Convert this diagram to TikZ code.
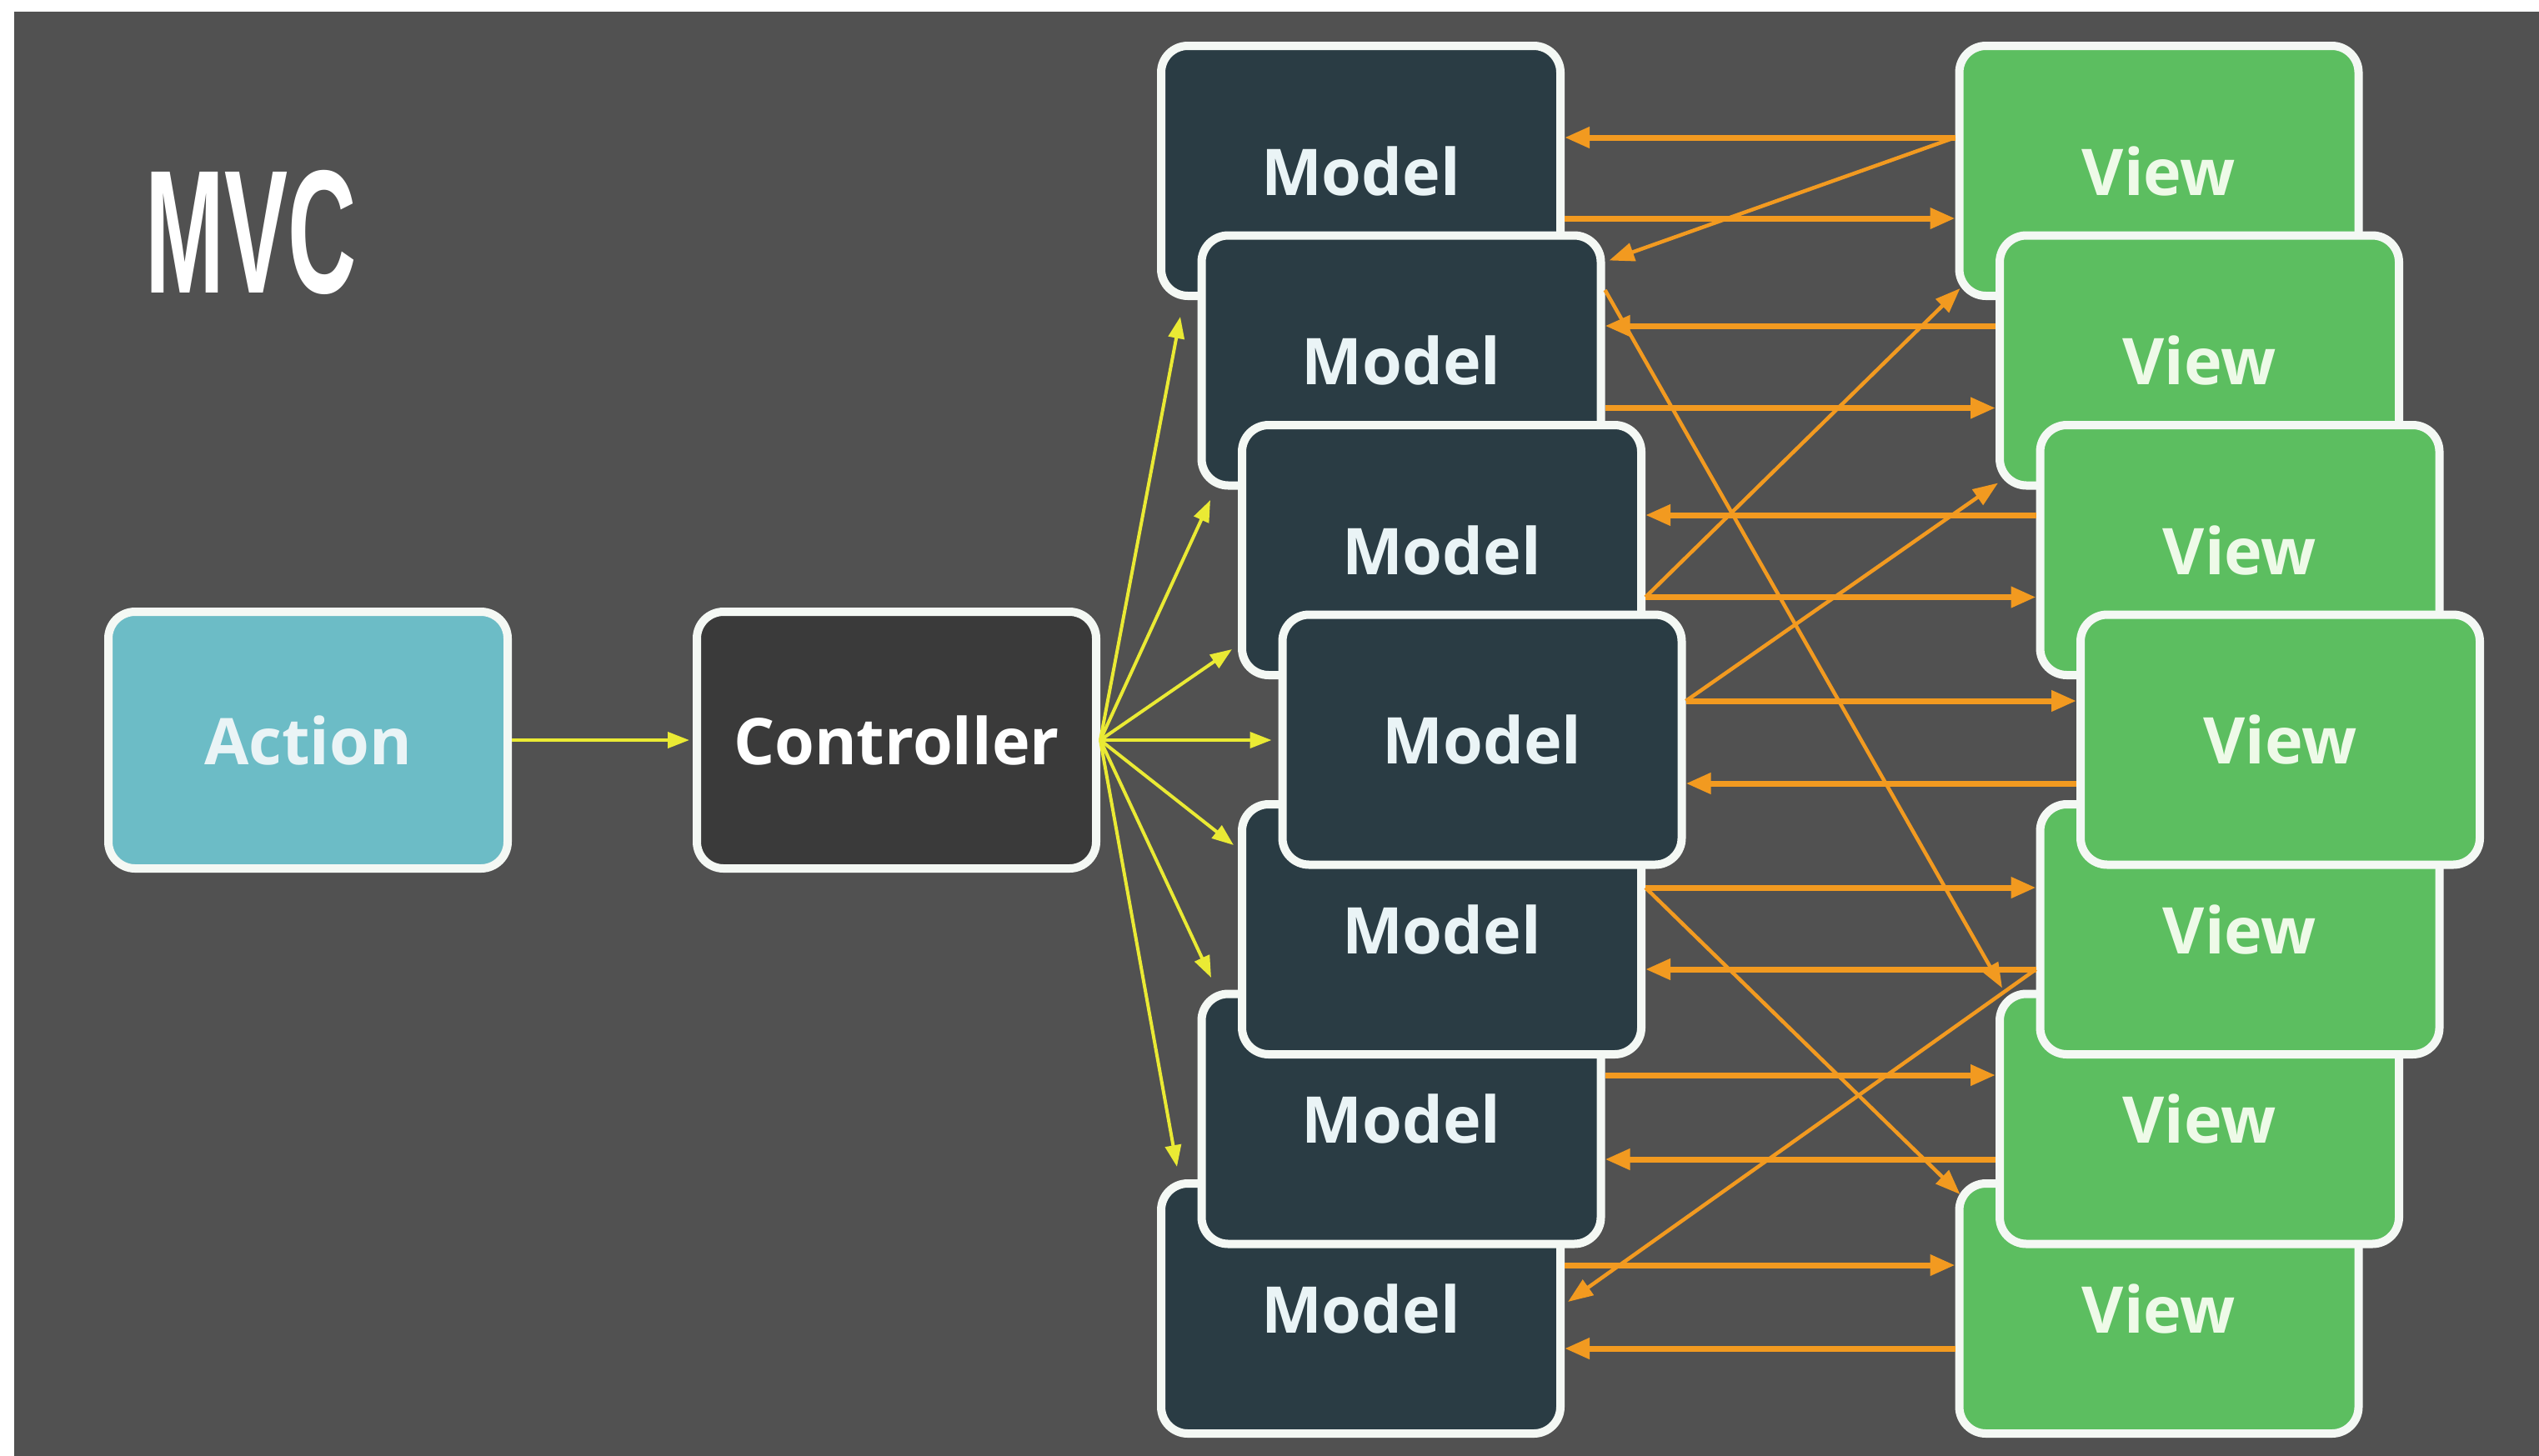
\documentclass[tikz,border=0pt]{standalone}
\usepackage{fontspec}
\usetikzlibrary{arrows.meta}
\newfontfamily\labfont{Open Sans}
\newfontfamily\titlefont{Liberation Sans}
\definecolor{bgc}{HTML}{515151}
\definecolor{modelfill}{HTML}{2A3C44}
\definecolor{viewfill}{HTML}{5CBE60}
\definecolor{actfill}{HTML}{6CBCC6}
\definecolor{ctrlfill}{HTML}{3A3A3A}
\definecolor{edgec}{HTML}{F4F8F4}
\definecolor{yel}{HTML}{EAEA34}
\definecolor{ora}{HTML}{F29A20}
\definecolor{modeltext}{HTML}{EAF4F6}
\definecolor{viewtext}{HTML}{EEFAE8}
\begin{document}
\begin{tikzpicture}[
  box/.style={draw=edgec, line width=0.10cm, rounded corners=0.32cm,
    minimum width=4.79cm, minimum height=3.00cm, inner sep=0pt,
    font=\labfont\bfseries\fontsize{22}{26}\selectfont},
  model/.style={box, fill=modelfill, text=modeltext},
  viewbox/.style={box, fill=viewfill, text=viewtext},
  yline/.style={draw=yel, line width=0.04cm, -{Triangle[length=0.26cm,width=0.19cm]}},
  hline/.style={draw=ora, line width=0.07cm, -{Triangle[length=0.30cm,width=0.24cm]}},
  dline/.style={draw=ora, line width=0.045cm, -{Triangle[length=0.30cm,width=0.22cm]}}
]
\useasboundingbox (0,0) rectangle (30.46,-17.46);
\fill[white] (-0.2,0.2) rectangle (30.7,-17.7);
\fill[bgc] (0.17,-0.14) rectangle (30.7,-17.7);

% title
\node[anchor=base west, inner sep=0pt, text=white] (title) at (1.74,-3.51)
  {\scalebox{0.54}[1]{\titlefont\bfseries\fontsize{60}{60}\selectfont MVC}};

% action and controller
\node[box, minimum height=3.08cm, fill=actfill, text=modeltext] (A) at (3.695,-8.88) {Action};
\node[box, minimum height=3.08cm, fill=ctrlfill, text=white] (C) at (10.755,-8.88) {Controller};

% models (drawing order: back to front)
\node[model] (M1) at (16.325,-2.05) {Model};
\node[model] (M2) at (16.81,-4.325) {Model};
\node[model] (M3) at (17.295,-6.60) {Model};
\node[model] (M7) at (16.325,-15.70) {Model};
\node[model] (M6) at (16.81,-13.425) {Model};
\node[model] (M5) at (17.295,-11.15) {Model};
\node[model] (M4) at (17.78,-8.875) {Model};

% views
\node[viewbox] (V1) at (25.90,-2.05) {View};
\node[viewbox] (V2) at (26.385,-4.325) {View};
\node[viewbox] (V3) at (26.87,-6.60) {View};
\node[viewbox] (V7) at (25.90,-15.70) {View};
\node[viewbox] (V6) at (26.385,-13.425) {View};
\node[viewbox] (V5) at (26.87,-11.15) {View};
\node[viewbox] (V4) at (27.355,-8.875) {View};

% yellow targets
\coordinate (y1) at (14.16,-3.80);
\coordinate (y2) at (14.52,-6.00);
\coordinate (y3) at (14.78,-7.79);
\coordinate (y5) at (14.80,-10.14);
\coordinate (y6) at (14.53,-11.73);
\coordinate (y7) at (14.12,-14.00);

\draw[yline, shorten >=0.04cm] (A.east) -- (C.west);
\draw[yline] (C.east) -- (y1);
\draw[yline] (C.east) -- (y2);
\draw[yline] (C.east) -- (y3);
\draw[yline, shorten >=0.08cm] (C.east) -- (C.east -| M4.west);
\draw[yline] (C.east) -- (y5);
\draw[yline] (C.east) -- (y6);
\draw[yline] (C.east) -- (y7);

% horizontal orange pairs
\draw[hline] ([yshift=0.40cm]V1.west) -- ([yshift=0.40cm]M1.east);
\draw[hline] ([yshift=-0.57cm]M1.east) -- ([yshift=-0.57cm]V1.west);
\draw[hline] ([yshift=0.415cm]V2.west) -- ([yshift=0.415cm]M2.east);
\draw[hline] ([yshift=-0.57cm]M2.east) -- ([yshift=-0.57cm]V2.west);
\draw[hline] ([yshift=0.42cm]V3.west) -- ([yshift=0.42cm]M3.east);
\draw[hline] ([yshift=-0.565cm]M3.east) -- ([yshift=-0.565cm]V3.west);
\draw[hline] ([yshift=0.465cm]M4.east) -- ([yshift=0.465cm]V4.west);
\draw[hline] ([yshift=-0.525cm]V4.west) -- ([yshift=-0.525cm]M4.east);
\draw[hline] ([yshift=0.50cm]M5.east) -- ([yshift=0.50cm]V5.west);
\draw[hline] ([yshift=-0.48cm]V5.west) -- ([yshift=-0.48cm]M5.east);
\draw[hline] ([yshift=0.525cm]M6.east) -- ([yshift=0.525cm]V6.west);
\draw[hline] ([yshift=-0.485cm]V6.west) -- ([yshift=-0.485cm]M6.east);
\draw[hline] ([yshift=0.52cm]M7.east) -- ([yshift=0.52cm]V7.west);
\draw[hline] ([yshift=-0.48cm]V7.west) -- ([yshift=-0.48cm]M7.east);

% diagonal orange arrows
\draw[dline] ([yshift=0.40cm]V1.west) -- ([xshift=0.05cm,yshift=1.20cm]M2.east);
\draw[dline] ([yshift=0.845cm]M2.east) -- ([xshift=0.08cm,yshift=0.02cm]V6.north west);
\draw[dline] ([yshift=-0.565cm]M3.east) -- ([xshift=0.06cm,yshift=0.14cm]V1.south west);
\draw[dline] ([yshift=0.465cm]M4.east) -- ([xshift=0.03cm,yshift=0.08cm]V2.south west);
\draw[dline] ([yshift=0.50cm]M5.east) -- ([xshift=0.06cm,yshift=-0.18cm]V7.north west);
\draw[dline] ([yshift=-0.48cm]V5.west) -- ([xshift=0.04cm,yshift=0.08cm]M7.east);
\end{tikzpicture}
\end{document}
